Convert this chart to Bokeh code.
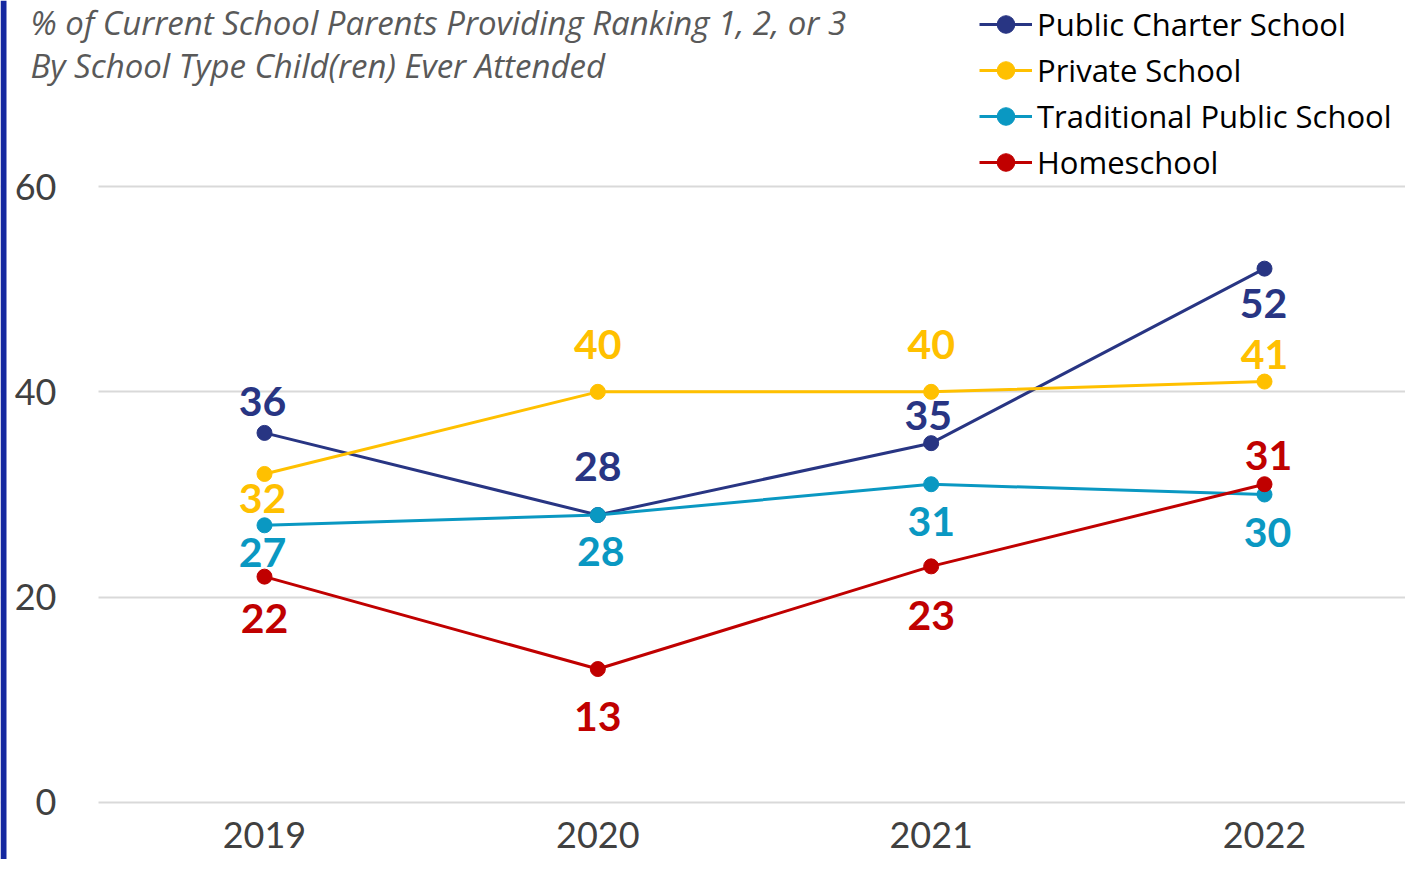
from bokeh.plotting import figure
from bokeh.models import (Range1d, FixedTicker, Label, LabelSet, ColumnDataSource,
                          Legend, LegendItem, BoxAnnotation)
from bokeh.core.properties import value
from bokeh.embed import file_html
from bokeh.resources import INLINE

# ---- data ----
years = ["2019", "2020", "2021", "2022"]
charter = [36, 28, 35, 52]
private = [32, 40, 40, 41]
traditional = [27, 28, 31, 30]
homeschool = [22, 13, 23, 31]
series_names = ["Public Charter School", "Private School",
                "Traditional Public School", "Homeschool"]
y_ticks = [0, 20, 40, 60]
title_lines = ["% of Current School Parents Providing Ranking 1, 2, or 3",
               "By School Type Child(ren) Ever Attended"]

# ---- style ----
colors = ["#283583", "#FFC000", "#0A98C2", "#C00000"]
label_dy = [[17, 34, 13, -49],
            [-39, 33, 33, 13],
            [-42, -51, -52, -52],
            [-56, -62, -64, 14]]
label_dx = [[-2, 0, -3, -1],
            [-2, 0, 0, 0],
            [-2, 3, 0, 3],
            [0, 0, 0, 4]]
FONT = "Lato"
FONT2 = "Open Sans"

xs = list(range(len(years)))
series = [charter, private, traditional, homeschool]
W, H = 1405, 859
x_lo, x_hi = -0.792, 3.423
y_lo, y_hi = -5.552, 78.117
axis_x = -0.498   # left edge of plotting area (half a category before first year)

p = figure(width=W, height=H,
           x_range=Range1d(x_lo, x_hi), y_range=Range1d(y_lo, y_hi),
           toolbar_location=None, output_backend="svg",
           min_border_left=0, min_border_right=0, min_border_top=0,
           min_border_bottom=0, outline_line_color=None)

p.xaxis.ticker = FixedTicker(ticks=xs)
p.xaxis.major_label_overrides = {i: y for i, y in zip(xs, years)}
p.xaxis.fixed_location = 0
p.yaxis.ticker = FixedTicker(ticks=y_ticks)
p.yaxis.fixed_location = axis_x
for ax in (p.xaxis, p.yaxis):
    ax.axis_line_color = None
    ax.major_tick_line_color = None
    ax.minor_tick_line_color = None
    ax.major_label_text_font = FONT
    ax.major_label_text_font_size = "36px"
    ax.major_label_text_color = "#404040"
p.yaxis.major_label_standoff = 36
p.xaxis.major_label_standoff = 14
p.xgrid.grid_line_color = None
p.ygrid.ticker = FixedTicker(ticks=y_ticks)
p.ygrid.grid_line_color = "#D9D9D9"
p.ygrid.grid_line_width = 2

# white mask so grid lines start at the plot-area edge
p.add_layout(BoxAnnotation(right=axis_x, fill_color="white", fill_alpha=1,
                           line_color=None, level="underlay"))
# blue accent bar on the left edge
p.add_layout(BoxAnnotation(left=0, right=6, left_units="screen", right_units="screen",
                           fill_color="#1428A0", fill_alpha=1, line_color=None))

items = []
for name, vals, col, dys, dxs in zip(series_names, series, colors, label_dy, label_dx):
    src = ColumnDataSource(dict(x=xs, y=vals, t=[str(v) for v in vals], dy=dys, dx=dxs))
    lr = p.line("x", "y", source=src, line_color=col, line_width=3)
    sr = p.scatter("x", "y", source=src, size=15, fill_color=col, line_color=col)
    ls = LabelSet(x="x", y="y", text="t", source=src, x_offset="dx", y_offset="dy",
                  text_font=value(FONT), text_font_style="bold", text_font_size="41px",
                  text_color=col, text_align="center", text_baseline="alphabetic")
    p.add_layout(ls)
    items.append(LegendItem(label=name, renderers=[lr, sr]))

legend = Legend(items=items, location=(979, 675), orientation="vertical",
                glyph_width=53, glyph_height=44, spacing=2, label_height=44,
                padding=0, margin=0, label_standoff=5,
                label_text_font=FONT2, label_text_font_size="31px",
                label_text_color="black", label_text_baseline="middle",
                border_line_color=None, background_fill_alpha=0)
p.add_layout(legend)

for txt, yy in zip(title_lines, [H - 22, H - 65]):
    p.add_layout(Label(x=30, y=yy, x_units="screen", y_units="screen", text=txt,
                       text_font=FONT2, text_font_style="italic", text_font_size="33px",
                       text_color="#595959", text_baseline="alphabetic"))

open("out.html", "w").write(file_html(p, INLINE))
